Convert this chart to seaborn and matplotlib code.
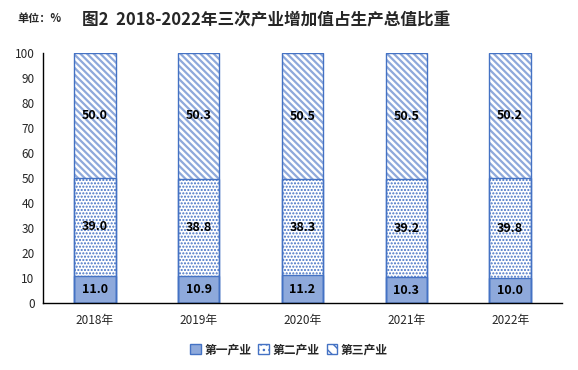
import matplotlib
matplotlib.use("Agg")
import matplotlib.pyplot as plt
import seaborn as sns
import pandas as pd
import numpy as np
from matplotlib.patches import Patch

years = ["2018年", "2019年", "2020年", "2021年", "2022年"]
primary = [11.0, 10.9, 11.2, 10.3, 10.0]
secondary = [39.0, 38.8, 38.3, 39.2, 39.8]
tertiary = [50.0, 50.3, 50.5, 50.5, 50.2]
series_names = ["第一产业", "第二产业", "第三产业"]
yticks = list(range(0, 101, 10))

sns.set_theme(style="white")
plt.rcParams['font.family'] = ['Noto Sans CJK SC', 'DejaVu Sans']
plt.rcParams['hatch.linewidth'] = 1.6

edge = '#4472C4'
fill1 = '#8EA9DB'
hatch_light = '#8EA9DB'
hatch3 = "\\" * 5
hatch2 = "....."

fig = plt.figure(figsize=(5.78, 3.70), dpi=100)
ax = fig.add_axes([0.0744, 0.181, 0.898, 0.676])

p = np.array(primary)
s = np.array(secondary)
t = np.array(tertiary)
df = pd.DataFrame({"year": years, "top": p + s + t, "mid": p + s, "low": p})

# hatch layers (no outline)
sns.barplot(data=df, x="year", y="top", ax=ax, color="white", edgecolor=hatch_light,
            linewidth=0, hatch=hatch3, width=0.4, saturation=1)
plt.rcParams['hatch.linewidth'] = 1.0
sns.barplot(data=df, x="year", y="mid", ax=ax, color="white", edgecolor=edge,
            linewidth=0, hatch=hatch2, width=0.4, saturation=1)
sns.barplot(data=df, x="year", y="low", ax=ax, color=fill1, edgecolor=edge,
            linewidth=0, width=0.4, saturation=1)
# outlines
for col in ["top", "mid", "low"]:
    sns.barplot(data=df, x="year", y=col, ax=ax, color=edge, fill=False,
                linewidth=1.0, width=0.4, saturation=1)

for i in range(len(years)):
    ax.text(i, p[i] / 2, f"{p[i]:.1f}", ha="center", va="center", fontsize=9, fontweight="bold", color="black")
    ax.text(i, p[i] + s[i] / 2, f"{s[i]:.1f}", ha="center", va="center", fontsize=9, fontweight="bold", color="black")
    ax.text(i, p[i] + s[i] + t[i] / 2, f"{t[i]:.1f}", ha="center", va="center", fontsize=9, fontweight="bold", color="black")

ax.set_xlim(-0.5, 4.5)
ax.set_ylim(0, 100)
ax.set_yticks(yticks)
ax.set_xlabel("")
ax.set_ylabel("")
sns.despine(ax=ax)
for sp in ["left", "bottom"]:
    ax.spines[sp].set_color("black")
    ax.spines[sp].set_linewidth(1.0)
ax.tick_params(axis="y", direction="out", length=3, width=0.8, color="black", labelsize=8.5, pad=3)
ax.tick_params(axis="x", length=0, labelsize=8.5, pad=8)

fig.text(0.03, 0.95, "单位：%", fontsize=8, fontweight="bold", ha="left", va="center")
fig.text(0.46, 0.945, "图2  2018-2022年三次产业增加值占生产总值比重", fontsize=12, fontweight="bold",
         ha="center", va="center")

handles = [Patch(facecolor=fill1, edgecolor=edge, label=series_names[0]),
           Patch(facecolor="white", edgecolor=edge, hatch="...", label=series_names[1]),
           Patch(facecolor="white", edgecolor=edge, hatch="\\\\\\", label=series_names[2])]
fig.legend(handles=handles, loc="center", bbox_to_anchor=(0.5, 0.055), ncol=3, frameon=False,
           handlelength=0.9, handleheight=0.9, handletextpad=0.3, columnspacing=0.6,
           prop={"weight": "bold", "size": 8.5})

fig.savefig("out.png", dpi=100)
